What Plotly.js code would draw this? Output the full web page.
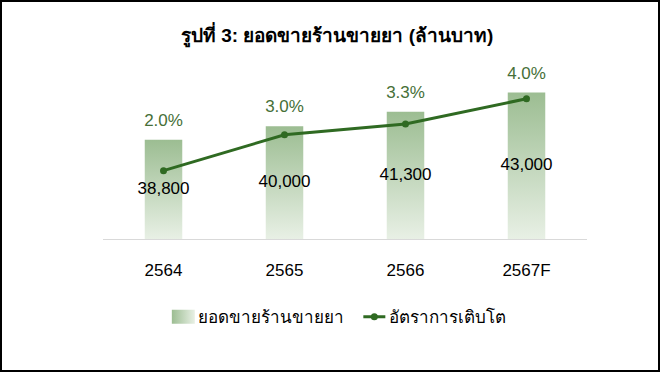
<!DOCTYPE html>
<html>
<head>
<meta charset="utf-8">
<script src="https://cdn.plot.ly/plotly-3.0.1.min.js"></script>
<style>
  html, body { margin: 0; padding: 0; background: #fff; }
  #chart { width: 656px; height: 368px; border: 2px solid #000; }
</style>
</head>
<body>
<div id="chart"></div>
<script>
const years = ["2564", "2565", "2566", "2567F"];
const sales = [38800, 40000, 41300, 43000];
const growth = [2.0, 3.0, 3.3, 4.0];
const salesName = "ยอดขายร้านขายยา";
const growthName = "อัตราการเติบโต";
const titleText = "รูปที่ 3: ยอดขายร้านขายยา (ล้านบาท)";

const FONT = "Liberation Sans, Arial, Noto Sans, sans-serif";
const lineColor = "#2f6a22";
const yMin = 30000, yMax = 45000;

const barTrace = {
  type: "bar",
  x: years,
  y: sales,
  name: salesName,
  width: 0.31,
  marker: { color: "#bcd3b5", line: { width: 0 } },
  hoverinfo: "skip"
};

// value labels centred in the visible part of each bar
const valTrace = {
  type: "scatter",
  mode: "text",
  x: years,
  y: sales.map(v => (v + yMin) / 2),
  text: sales.map(v => v.toLocaleString("en-US")),
  textposition: "middle center",
  textfont: { color: "#000", size: 17, family: FONT },
  showlegend: false,
  hoverinfo: "skip",
  cliponaxis: false
};

const pctTrace = {
  type: "scatter",
  mode: "markers+text",
  x: years,
  y: sales,
  text: growth.map(v => v.toFixed(1) + "%"),
  textposition: "top center",
  marker: { size: 14, color: "rgba(0,0,0,0)" },
  textfont: { color: "#466f38", size: 17, family: FONT },
  showlegend: false,
  hoverinfo: "skip",
  cliponaxis: false
};

const lineTrace = {
  type: "scatter",
  mode: "lines+markers",
  x: years,
  y: growth,
  yaxis: "y2",
  name: growthName,
  line: { color: lineColor, width: 3 },
  marker: { color: lineColor, size: 7 },
  hoverinfo: "skip"
};

const layout = {
  width: 656,
  height: 368,
  margin: { l: 101, r: 71, t: 68, b: 131 },
  paper_bgcolor: "#fff",
  plot_bgcolor: "#fff",
  font: { family: FONT, size: 17, color: "#000" },
  title: {
    text: "<b>" + titleText + "</b>",
    x: 0.511, xanchor: "center",
    y: 0.91, yanchor: "middle",
    font: { family: FONT, size: 19, color: "#000" }
  },
  xaxis: {
    type: "category",
    showline: true, linecolor: "#d9d9d9", linewidth: 1,
    ticks: "", showgrid: false,
    ticklabelstandoff: 16,
    tickfont: { size: 17, color: "#000" },
    fixedrange: true
  },
  yaxis: {
    range: [yMin, yMax],
    visible: false, showgrid: false, zeroline: false, fixedrange: true
  },
  yaxis2: {
    range: [0.1, 4.8],
    overlaying: "y", side: "right",
    visible: false, showgrid: false, zeroline: false, fixedrange: true
  },
  showlegend: true,
  legend: {
    orientation: "h",
    x: 0.479, xanchor: "center",
    y: -0.462, yanchor: "middle",
    font: { size: 17, color: "#000" },
    itemwidth: 30,
    traceorder: "normal"
  }
};

function applyGradient(gd) {
  const svg = gd.querySelector("svg.main-svg");
  const ns = "http://www.w3.org/2000/svg";
  let defs = svg.querySelector("defs");
  if (!defs) { defs = document.createElementNS(ns, "defs"); svg.insertBefore(defs, svg.firstChild); }
  function mk(id, units, x1, y1, x2, y2) {
    const g = document.createElementNS(ns, "linearGradient");
    g.setAttribute("id", id);
    if (units) g.setAttribute("gradientUnits", units);
    g.setAttribute("x1", x1); g.setAttribute("y1", y1);
    g.setAttribute("x2", x2); g.setAttribute("y2", y2);
    const s1 = document.createElementNS(ns, "stop");
    s1.setAttribute("offset", "0"); s1.setAttribute("stop-color", "#9cbd92");
    const s2 = document.createElementNS(ns, "stop");
    s2.setAttribute("offset", "1"); s2.setAttribute("stop-color", "#e8f0e5");
    g.appendChild(s1); g.appendChild(s2);
    defs.appendChild(g);
  }
  const ya = gd._fullLayout.yaxis;
  const bars = gd.querySelectorAll(".barlayer .point path");
  bars.forEach((p, i) => {
    const top = ya.l2p(sales[i]);
    const bot = ya._length;
    mk("barGrad" + i, "userSpaceOnUse", "0", String(top), "0", String(bot));
    p.style.fill = "url(#barGrad" + i + ")";
  });
  mk("legGrad", null, "0", "0", "1", "0");
  const traces = gd.querySelectorAll(".legend .traces");
  if (traces.length > 0) {
    traces[0].querySelectorAll(".legendpoints path").forEach(p => {
      p.setAttribute("d", "M16.5,7H-6.5V-7H16.5Z");
      p.style.fill = "url(#legGrad)";
      p.style.stroke = "none";
    });
  }
  if (traces.length > 1) {
    traces[1].querySelectorAll(".legendlines path").forEach(p => {
      p.setAttribute("d", "M14,0h22");
    });
    traces[1].querySelectorAll(".legendpoints path").forEach(p => {
      p.setAttribute("transform", "translate(25,0)");
    });
  }
}

Plotly.newPlot("chart", [barTrace, valTrace, pctTrace, lineTrace], layout, { displayModeBar: false, staticPlot: true })
  .then(gd => applyGradient(gd));
</script>
</body>
</html>
